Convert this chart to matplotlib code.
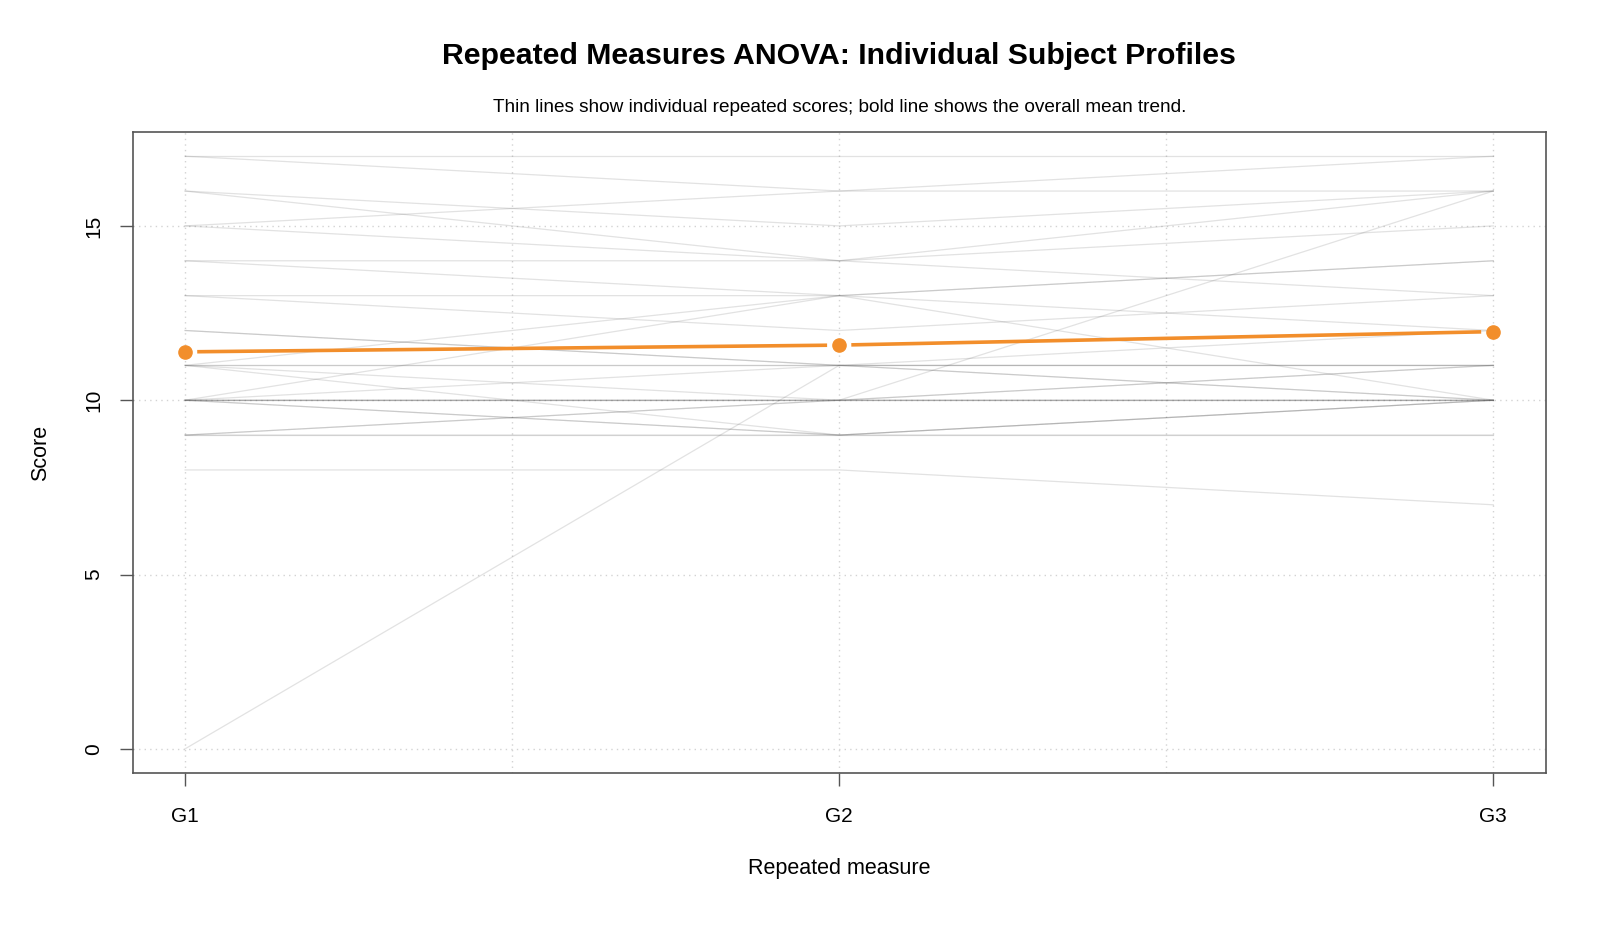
import numpy as np
import matplotlib.pyplot as plt

plt.rcParams['font.family'] = ['Liberation Sans', 'DejaVu Sans']

# repeated measures, one entry per subject
measures = ["G1", "G2", "G3"]
g1 = [17, 17, 16, 16, 15, 15, 14, 14, 13, 13, 11, 12, 11, 11, 11, 10,
      10, 10, 10, 10, 10, 10, 11, 9, 9, 9, 9, 8, 0, 12, 10]
g2 = [17, 16, 15, 14, 16, 14, 14, 13, 13, 12, 13, 11, 11, 11, 10, 11,
      9, 10, 13, 10, 10, 9, 9, 10, 10, 9, 9, 8, 11, 11, 10]
g3 = [17, 17, 16, 16, 16, 15, 13, 14, 14, 13, 12, 11, 11, 11, 11, 10,
      10, 16, 10, 11, 10, 9, 10, 10, 10, 9, 10, 7, 12, 10, 10]

scores = np.array([g1, g2, g3]).T
means = scores.mean(axis=0)
x = np.arange(1, len(measures) + 1)

orange = "#F28E2B"
frame = "#555555"

fig = plt.figure(figsize=(16, 9.33), dpi=100)
ax = fig.add_axes([0.083, 0.172, 0.883, 0.686])

# thin subject profiles
for row in scores:
    ax.plot(x, row, color=(0.3, 0.3, 0.3), alpha=0.16, lw=0.9, zorder=2)

# mean trend, drawn like R's type="b" (line broken around the points)
gap = 0.0185
for i in range(len(x) - 1):
    xa, xb = x[i] + gap, x[i + 1] - gap
    ya, yb = np.interp([xa, xb], x, means)
    ax.plot([xa, xb], [ya, yb], color=orange, lw=2.6,
            solid_capstyle="butt", zorder=3)
ax.plot(x, means, "o", color=orange, ms=9.5, zorder=4)

ax.set_xlim(0.92, 3.08)
ax.set_ylim(-0.68, 17.68)
ax.set_xticks(x)
ax.set_xticklabels(measures)
ax.set_xticks([1.5, 2.5], minor=True)
ax.set_yticks([0, 5, 10, 15])
ax.tick_params(axis="y", labelrotation=90)
for lab in ax.get_yticklabels():
    lab.set_va("center")

ax.tick_params(which="major", direction="out", length=9.5, width=1,
               color=frame, labelsize=15, pad=12)
ax.tick_params(axis="x", which="major", pad=15)
ax.tick_params(which="minor", length=0)
ax.grid(True, which="both", axis="x", color="#D3D3D3", lw=1,
        linestyle=(0, (1, 3)))
ax.grid(True, which="major", axis="y", color="#D3D3D3", lw=1,
        linestyle=(0, (1, 3)))
ax.set_axisbelow(True)
for s in ax.spines.values():
    s.set_color(frame)
    s.set_linewidth(1.2)

ax.set_xlabel("Repeated measure", fontsize=15.5, va="center")
ax.xaxis.set_label_coords(0.5, -0.1507)
ax.set_ylabel("Score", fontsize=15.5, va="center")
ax.yaxis.set_label_coords(-0.0656, 0.5)

fig.text(0.5245, 0.9398, "Repeated Measures ANOVA: Individual Subject Profiles",
         ha="center", va="center", fontsize=21.8, fontweight="bold")
fig.text(0.5245, 0.8853,
         "Thin lines show individual repeated scores; bold line shows the overall mean trend.",
         ha="center", va="center", fontsize=13.7)

fig.savefig("out.png", dpi=100, facecolor="white")
